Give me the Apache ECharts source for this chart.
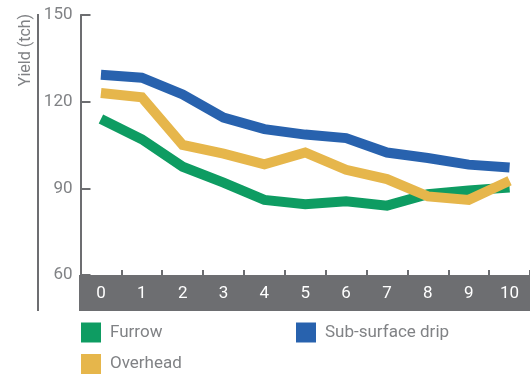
<!DOCTYPE html>
<html>
<head>
<meta charset="utf-8">
<script src="https://cdn.jsdelivr.net/npm/echarts@6/dist/echarts.min.js"></script>
<style>
  html, body { margin: 0; padding: 0; background: #fff; }
  #chart { width: 530px; height: 376px; }
</style>
</head>
<body>
<div id="chart"></div>
<script>
// Years since start (category axis)
const years = ['0', '1', '2', '3', '4', '5', '6', '7', '8', '9', '10'];
// Cane yield (tonnes cane per hectare) by irrigation method
const furrow = [114, 107, 97.5, 92, 86, 84.5, 85.5, 84, 88, 89.3, 90.3];
const subSurfaceDrip = [129.3, 128.3, 122.5, 114.5, 110.5, 108.6, 107.4, 102.4, 100.5, 98.2, 97.2];
const overhead = [123, 121.5, 105, 102, 98.3, 102.4, 96.4, 93.2, 87.2, 86, 92.6];
const yTicks = { min: 60, max: 150, interval: 30 };

const FONT = "'Liberation Sans Narrow', 'Roboto', sans-serif";
const AXIS_GREY = '#6d6e71';
const TEXT_GREY = '#808285';
const COLORS = { furrow: '#0e9c62', drip: '#2862ae', overhead: '#e6b64b' };

const chart = echarts.init(document.getElementById('chart'), null, { renderer: 'canvas' });

function legendItem(name, left, top) {
  return {
    data: [name],
    left: left, top: top,
    icon: 'rect', itemWidth: 20, itemHeight: 20,
    selectedMode: false,
    padding: 0,
    textStyle: { fontFamily: FONT, fontSize: 17, color: TEXT_GREY, padding: [0, 0, 0, 4] }
  };
}

function lineSeries(name, data, color) {
  return {
    name: name, type: 'line', data: data,
    showSymbol: false, symbol: 'none',
    lineStyle: { width: 10, color: color, join: 'miter' },
    itemStyle: { color: color },
    z: 3
  };
}

chart.setOption({
  animation: false,
  grid: { left: 80.5, top: 15, width: 451, height: 260 },
  legend: [
    legendItem('Furrow', 81, 322.5),
    legendItem('Sub-surface drip', 296, 322.5),
    legendItem('Overhead', 81, 354)
  ],
  xAxis: {
    type: 'category', data: years, boundaryGap: true, z: 10,
    axisLine: { show: false },
    axisTick: { show: true, inside: true, length: 5, interval: 0, lineStyle: { color: AXIS_GREY, width: 2 } },
    axisLabel: { color: '#ffffff', fontFamily: FONT, fontSize: 17, margin: 10, interval: 0 }
  },
  yAxis: {
    type: 'value', min: yTicks.min, max: yTicks.max, interval: yTicks.interval,
    splitLine: { show: false },
    axisLine: { show: true, lineStyle: { color: AXIS_GREY, width: 2 } },
    axisTick: { show: true, inside: true, length: 10, lineStyle: { color: AXIS_GREY, width: 2 } },
    axisLabel: { color: TEXT_GREY, fontFamily: FONT, fontSize: 17, margin: 8 }
  },
  graphic: [
    // dark band behind the x-axis labels
    { type: 'rect', z: -1, shape: { x: 79, y: 275, width: 452, height: 36 }, style: { fill: AXIS_GREY } },
    // rule beside the axis title
    { type: 'line', z: -1, shape: { x1: 38, y1: 14, x2: 38, y2: 311 }, style: { stroke: AXIS_GREY, lineWidth: 2 } },
    // axis title
    { type: 'text', x: 26, y: 50, rotation: Math.PI / 2,
      style: { text: 'Yield (tch)', fontFamily: FONT, fontSize: 16, fill: TEXT_GREY, align: 'center', verticalAlign: 'middle' } }
  ],
  series: [
    lineSeries('Furrow', furrow, COLORS.furrow),
    lineSeries('Overhead', overhead, COLORS.overhead),
    lineSeries('Sub-surface drip', subSurfaceDrip, COLORS.drip)
  ]
});
</script>
</body>
</html>
